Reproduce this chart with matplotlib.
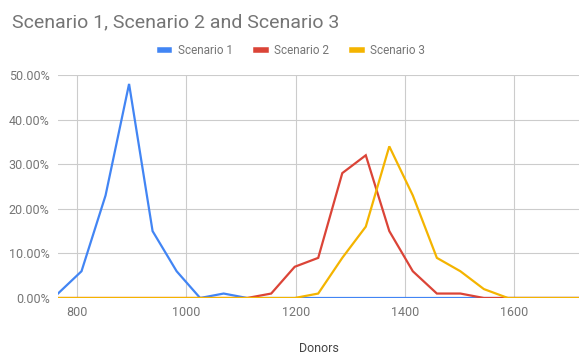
import matplotlib.pyplot as plt
from matplotlib.ticker import FuncFormatter

# Data (percent of runs per donor bin)
donors = [765, 808, 852, 895, 938, 982, 1025, 1068, 1111, 1155, 1198, 1241,
          1285, 1328, 1371, 1414, 1458, 1501, 1544, 1588, 1631, 1674, 1718]
scenario1 = [1, 6, 23, 48, 15, 6, 0, 1, 0, 0, 0, 0,
             0, 0, 0, 0, 0, 0, 0, 0, 0, 0, 0]
scenario2 = [0, 0, 0, 0, 0, 0, 0, 0, 0, 1, 7, 9,
             28, 32, 15, 6, 1, 1, 0, 0, 0, 0, 0]
scenario3 = [0, 0, 0, 0, 0, 0, 0, 0, 0, 0, 0, 1,
             9, 16, 34, 23, 9, 6, 2, 0, 0, 0, 0]
names = ["Scenario 1", "Scenario 2", "Scenario 3"]
colors = ["#4285F4", "#DB4437", "#F4B400"]
xticks = [800, 1000, 1200, 1400, 1600]
yticks = [0, 10, 20, 30, 40, 50]

plt.rcParams['font.family'] = ['Roboto', 'DejaVu Sans']
grey = "#757575"

fig = plt.figure(figsize=(5.85, 3.62), dpi=100)
ax = fig.add_axes([58/585, 1 - 298/362, (579-58)/585, (298-75)/362])

for ys, name, c in zip([scenario1, scenario2, scenario3], names, colors):
    ax.plot(donors, ys, color=c, lw=1.6, label=name, solid_joinstyle='miter')

ax.set_xlim(donors[0], donors[-1])
ax.set_ylim(0, 50)
ax.set_xticks(xticks)
ax.set_yticks(yticks)
ax.yaxis.set_major_formatter(FuncFormatter(lambda v, p: "%.2f%%" % v))
ax.grid(True, color="#cccccc", lw=0.8)
ax.set_axisbelow(True)
for s in ax.spines.values():
    s.set_visible(False)
ax.axhline(0, color="#333333", lw=0.8, zorder=0)
ax.tick_params(length=0, labelsize=9, colors=grey, pad=6)
ax.set_xlabel("Donors", fontsize=9, color="#444444", labelpad=16)

fig.text(12/585, 1 - 22/362, "Scenario 1, Scenario 2 and Scenario 3",
         fontsize=14, color=grey, va='center', ha='left')
leg = fig.legend(loc='center', bbox_to_anchor=(0.5, 1 - 51/362), ncol=3,
                 frameon=False, fontsize=8.5, handlelength=0.8,
                 handletextpad=0.7, columnspacing=2.0)
for t in leg.get_texts():
    t.set_color(grey)
for h in leg.get_lines():
    h.set_linewidth(4)

fig.savefig("out.png", dpi=100)
